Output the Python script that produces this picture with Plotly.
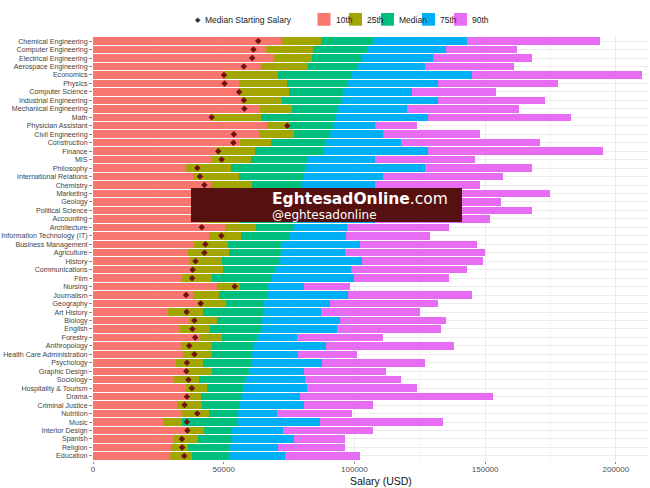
import plotly.graph_objects as go

majors = ["Chemical Engineering", "Computer Engineering", "Electrical Engineering", "Aerospace Engineering",
          "Economics", "Physics", "Computer Science", "Industrial Engineering", "Mechanical Engineering",
          "Math", "Physician Assistant", "Civil Engineering", "Construction", "Finance", "MIS",
          "Philosophy", "International Relations", "Chemistry", "Marketing", "Geology",
          "Political Science", "Accounting", "Architecture", "Information Technology (IT)",
          "Business Management", "Agriculture", "History", "Communications", "Film", "Nursing",
          "Journalism", "Geography", "Art History", "Biology", "English", "Forestry", "Anthropology",
          "Health Care Administration", "Psychology", "Graphic Design", "Sociology",
          "Hospitality & Tourism", "Drama", "Criminal Justice", "Nutrition", "Music",
          "Interior Design", "Spanish", "Religion", "Education"]

start_median = [63200, 61400, 60900, 57700, 50100, 50300, 55900, 57700, 57900, 45400,
                74300, 53900, 53700, 47900, 49200, 39900, 40900, 42600, 40800, 43500,
                40800, 46000, 41600, 49100, 43000, 42600, 39200, 38100, 37900, 54200,
                35600, 41200, 35800, 38800, 38000, 39100, 36800, 38800, 35900, 35700,
                36500, 37800, 35900, 35000, 39900, 35900, 36100, 34000, 34100, 34900]

p10 = [71900, 66100, 69300, 64300, 50600, 56000, 56000, 57100, 63700, 45200,
       66400, 63400, 56300, 47200, 45300, 35500, 38200, 45300, 42100, 45000,
       41200, 42200, 50600, 44500, 38800, 36300, 37000, 37500, 33900, 47600,
       38400, 40000, 28800, 36900, 33400, 41000, 33800, 34600, 31600, 36000,
       30700, 35500, 36700, 32200, 33900, 26700, 35700, 31000, 29700, 29300]

p25 = [87300, 84100, 83800, 82100, 70600, 74200, 74900, 72300, 76200, 64200,
       75200, 76800, 68100, 62100, 60500, 52800, 56000, 60700, 55600, 59600,
       55300, 56100, 62200, 56700, 51500, 52100, 49200, 49700, 45500, 56400,
       48300, 50900, 42200, 47400, 44800, 49300, 45500, 45600, 42100, 45500,
       40400, 43600, 41300, 41600, 44500, 34000, 42600, 40000, 36500, 37900]

p50 = [107000, 105000, 103000, 101000, 98600, 97300, 95500, 94700, 93600, 92400,
       91700, 90500, 88900, 88300, 82300, 81200, 80900, 79900, 79600, 79500,
       78200, 77100, 76800, 74800, 72100, 71900, 71000, 70000, 68500, 67000,
       66700, 65500, 64900, 64800, 64700, 62600, 61500, 60600, 60400, 59800,
       58200, 57500, 56900, 56300, 55300, 55000, 53200, 53100, 52000, 52000]

p75 = [143000, 135000, 130000, 127000, 145000, 132000, 122000, 132000, 120000, 128000,
       108000, 111000, 118000, 128000, 108000, 127000, 111000, 108000, 119000, 101000,
       114000, 108000, 97000, 96700, 102000, 96300, 103000, 98800, 100000, 80900,
       97700, 90800, 87400, 94500, 93200, 78200, 89300, 78500, 87500, 80800,
       81200, 81900, 79100, 80700, 70500, 87000, 72500, 76800, 70900, 73400]

p90 = [194000, 162000, 168000, 161000, 210000, 178000, 154000, 173000, 163000, 183000,
       124000, 148000, 171000, 195000, 146000, 168000, 157000, 148000, 175000, 156000,
       168000, 152000, 136000, 129000, 147000, 150000, 149000, 143000, 136000, 98300,
       145000, 132000, 125000, 135000, 133000, 111000, 138000, 101000, 127000, 112000,
       118000, 124000, 153000, 107000, 99200, 134000, 107000, 96400, 96400, 102000]

series_names = ["10th", "25th", "Median", "75th", "90th"]
series_values = [p10, p25, p50, p75, p90]
colors = ["#F8766D", "#A3A500", "#00BF7D", "#00B0F6", "#E76BF3"]
x_ticks = [0, 50000, 100000, 150000, 200000]

fig = go.Figure()
# draw widest first so narrower bars overlay them
for name, vals, col in reversed(list(zip(series_names, series_values, colors))):
    fig.add_trace(go.Bar(y=majors, x=vals, orientation="h", name=name,
                         marker=dict(color=col, line=dict(width=0)),
                         width=0.88, showlegend=False))

fig.add_trace(go.Scatter(y=majors, x=start_median, mode="markers",
                         name="Median Starting Salary",
                         marker=dict(symbol="diamond", size=5, color="#6e1414"),
                         showlegend=False))

L, R, T, B = 93, 2, 36, 27
W, H = 650, 488
pw, ph = W - L - R, H - T - B

def px(x):
    return (x - L) / pw

def py(y):
    return (H - B - y) / ph

shapes = []
annotations = []

# legend (drawn manually to match layout)
annotations.append(dict(x=px(198), y=py(19.5), xref="paper", yref="paper", text="◆",
                        showarrow=False, font=dict(size=7, color="#333333"),
                        xanchor="center", yanchor="middle"))
annotations.append(dict(x=px(203), y=py(19.5), xref="paper", yref="paper",
                        text="Median Starting Salary", showarrow=False,
                        font=dict(size=8.5, color="#222222"), xanchor="left", yanchor="middle"))
box_left = [317.5, 349, 381, 422, 454]
for bl, name, col in zip(box_left, series_names, colors):
    shapes.append(dict(type="rect", xref="paper", yref="paper",
                       x0=px(bl), x1=px(bl + 13), y0=py(25.7), y1=py(13),
                       fillcolor=col, line=dict(width=0)))
    annotations.append(dict(x=px(bl + 16), y=py(19.5), xref="paper", yref="paper",
                            text=name, showarrow=False, font=dict(size=8.5, color="#222222"),
                            xanchor="left", yanchor="middle"))

# watermark
shapes.append(dict(type="rect", xref="paper", yref="paper", layer="above",
                   x0=px(191), x1=px(462), y0=py(222), y1=py(188),
                   fillcolor="#561010", line=dict(width=0)))
annotations.append(dict(x=px(271), y=py(198.5), xref="paper", yref="paper",
                        text="<b>EghtesadOnline</b>.com", showarrow=False, borderpad=0,
                        font=dict(size=15.5, color="white", family="DejaVu Sans"),
                        xanchor="left", yanchor="middle"))
annotations.append(dict(x=px(271), y=py(214.5), xref="paper", yref="paper",
                        text="@eghtesadonline", showarrow=False, borderpad=0,
                        font=dict(size=12, color="white", family="DejaVu Sans"),
                        xanchor="left", yanchor="middle"))

# x-axis title
annotations.append(dict(x=px(381), y=py(481), xref="paper", yref="paper",
                        text="Salary (USD)", showarrow=False,
                        font=dict(size=10.5, color="#111111"),
                        xanchor="center", yanchor="middle"))

fig.update_layout(
    width=W, height=H,
    margin=dict(l=L, r=R, t=T, b=B),
    barmode="overlay",
    bargap=0,
    plot_bgcolor="white", paper_bgcolor="white",
    font=dict(family="Liberation Sans, Arial, sans-serif"),
    shapes=shapes, annotations=annotations,
    xaxis=dict(range=[0, 212300], tickvals=x_ticks, ticktext=[str(v) for v in x_ticks],
               showgrid=True, gridcolor="#ebebeb", gridwidth=1, automargin=False,
               minor=dict(dtick=25000, tick0=25000, showgrid=True, gridcolor="#f5f5f5", gridwidth=1),
               zeroline=False, ticks="outside", ticklen=2, tickcolor="#888888",
               ticklabelstandoff=-2,
               tickfont=dict(size=8, color="#4d4d4d"), showline=False),
    yaxis=dict(type="category", categoryorder="array", categoryarray=majors,
               tickmode="array", tickvals=majors, ticktext=majors, automargin=False,
               range=[len(majors) - 0.4, -0.6], showgrid=True, gridcolor="#ebebeb",
               ticks="outside", ticklen=3, tickcolor="#888888", ticklabelstandoff=0,
               tickfont=dict(size=7.1, color="#444444"), zeroline=False, showline=False),
)

fig.write_html("out.html")
